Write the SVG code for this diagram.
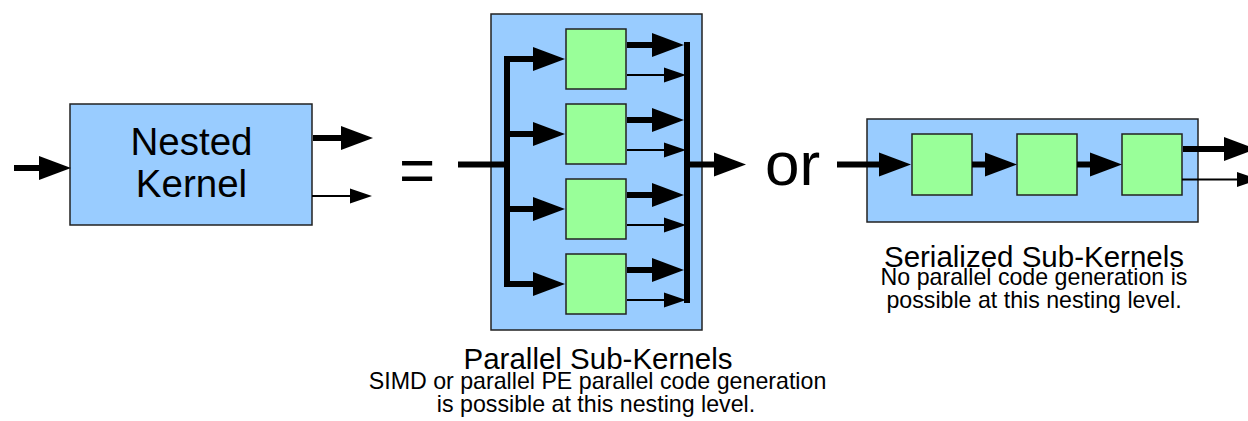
<svg xmlns="http://www.w3.org/2000/svg" width="1248" height="421" viewBox="0 0 1248 421">
<style>
.outer{fill:#99ccff;stroke:#222;stroke-width:1.5}
.sub{fill:#99ff99;stroke:#222;stroke-width:1.5}
.thick{stroke:#000;stroke-width:6;fill:none}
.thin{stroke:#000;stroke-width:2;fill:none}
.bus{stroke:#000;stroke-width:6;fill:none;stroke-linecap:square}
text{font-family:"Liberation Sans",Arial,sans-serif;fill:#000}
.t1{font-size:38.5px;text-anchor:middle}
.big{font-size:62px}
.title{font-size:29.5px;text-anchor:middle}
.note{font-size:23.2px;text-anchor:middle}
</style>
<defs>
<marker id="hT" markerUnits="userSpaceOnUse" markerWidth="32" markerHeight="24" refX="1" refY="12" orient="auto" overflow="visible">
<path d="M0,0 L32,12 L0,24 z" fill="#000"/>
</marker>
<marker id="ht" markerUnits="userSpaceOnUse" markerWidth="22" markerHeight="15" refX="1" refY="7.5" orient="auto" overflow="visible">
<path d="M0,0 L22,7.5 L0,15 z" fill="#000"/>
</marker>
</defs>

<g id="nested-kernel">
<rect class="outer" x="70" y="104" width="242" height="121"/>
<text class="t1" x="191.5" y="154.5">Nested</text>
<text class="t1" x="191.5" y="196.5">Kernel</text>
</g>

<g id="equals"><text class="big" x="399" y="191">=</text></g>

<g id="parallel">
<rect class="outer" x="491" y="14" width="211" height="316"/>
<rect id="p1" class="sub" x="566" y="29" width="60" height="60"/>
<rect id="p2" class="sub" x="566" y="104" width="60" height="60"/>
<rect id="p3" class="sub" x="566" y="179" width="60" height="60"/>
<rect id="p4" class="sub" x="566" y="254" width="60" height="60"/>
</g>

<g id="or"><text class="big" x="765" y="185">or</text></g>

<g id="serial">
<rect class="outer" x="867" y="119" width="331" height="103"/>
<rect id="s1" class="sub" x="912" y="134" width="60" height="61"/>
<rect id="s2" class="sub" x="1017" y="134" width="60" height="61"/>
<rect id="s3" class="sub" x="1122" y="134" width="60" height="61"/>
</g>

<g id="connectors">
<!-- nested kernel -->
<line class="thick" x1="14" y1="168" x2="40" y2="168" marker-end="url(#hT)"/>
<line class="thick" x1="313" y1="138" x2="342" y2="138" marker-end="url(#hT)"/>
<line class="thin" x1="312" y1="196" x2="351" y2="196" marker-end="url(#ht)"/>
<!-- parallel -->
<line class="thick" x1="458" y1="164.5" x2="507" y2="164.5"/>
<line class="bus" x1="507" y1="59" x2="507" y2="284"/>
<line class="thick" x1="507" y1="59" x2="534" y2="59" marker-end="url(#hT)"/>
<line class="thick" x1="507" y1="134" x2="534" y2="134" marker-end="url(#hT)"/>
<line class="thick" x1="507" y1="209" x2="534" y2="209" marker-end="url(#hT)"/>
<line class="thick" x1="507" y1="284" x2="534" y2="284" marker-end="url(#hT)"/>
<line class="thick" x1="627" y1="45" x2="653" y2="45" marker-end="url(#hT)"/>
<line class="thick" x1="627" y1="120" x2="653" y2="120" marker-end="url(#hT)"/>
<line class="thick" x1="627" y1="195" x2="653" y2="195" marker-end="url(#hT)"/>
<line class="thick" x1="627" y1="270" x2="653" y2="270" marker-end="url(#hT)"/>
<line class="thin" x1="627" y1="75" x2="665" y2="75" marker-end="url(#ht)"/>
<line class="thin" x1="627" y1="150" x2="665" y2="150" marker-end="url(#ht)"/>
<line class="thin" x1="627" y1="225" x2="665" y2="225" marker-end="url(#ht)"/>
<line class="thin" x1="627" y1="300" x2="665" y2="300" marker-end="url(#ht)"/>
<line class="bus" x1="687" y1="45" x2="687" y2="300"/>
<line class="thick" x1="687" y1="164.5" x2="715" y2="164.5" marker-end="url(#hT)"/>
<!-- serial -->
<line class="thick" x1="837" y1="164.5" x2="880" y2="164.5" marker-end="url(#hT)"/>
<line class="thick" x1="972" y1="164.5" x2="986" y2="164.5" marker-end="url(#hT)"/>
<line class="thick" x1="1077" y1="164.5" x2="1091" y2="164.5" marker-end="url(#hT)"/>
<line class="thick" x1="1183" y1="149" x2="1225" y2="149" marker-end="url(#hT)"/>
<line class="thin" x1="1182" y1="179.5" x2="1238" y2="179.5" marker-end="url(#ht)"/>
</g>

<g id="captions">
<text class="title" x="598" y="369">Parallel Sub-Kernels</text>
<text class="note" x="597.5" y="388.5">SIMD or parallel PE parallel code generation</text>
<text class="note" x="596" y="412">is possible at this nesting level.</text>
<text class="title" x="1034" y="266.5">Serialized Sub-Kernels</text>
<text class="note" x="1034" y="285">No parallel code generation is</text>
<text class="note" x="1034" y="308">possible at this nesting level.</text>
</g>
</svg>
